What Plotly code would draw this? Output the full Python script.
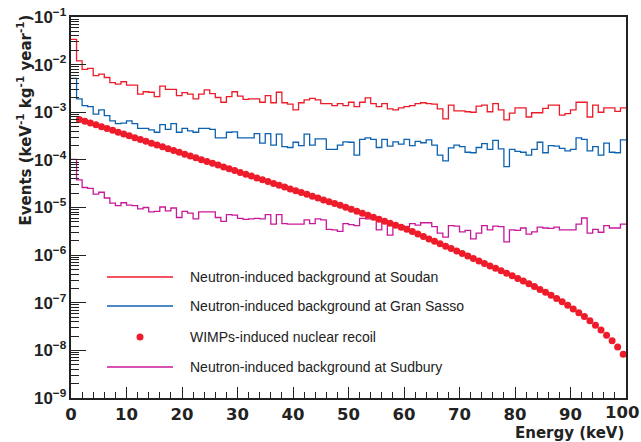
import plotly.graph_objects as go

# ---------------- data ----------------
bin_edges = list(range(0, 101))  # 1 keV bins, 0..100 keV

# log10 of events per bin (keV^-1 kg^-1 year^-1)
soudan_log10 = [
    -1.47, -1.92, -2.10, -2.08, -2.23, -2.20, -2.27, -2.38, -2.41, -2.36,
    -2.43, -2.43, -2.62, -2.57, -2.58, -2.67, -2.45, -2.52, -2.52, -2.65,
    -2.59, -2.62, -2.72, -2.62, -2.53, -2.61, -2.69, -2.79, -2.67, -2.57,
    -2.66, -2.73, -2.72, -2.72, -2.79, -2.65, -2.80, -2.58, -2.80, -2.83,
    -2.95, -2.80, -2.74, -2.71, -2.74, -2.82, -2.82, -2.86, -2.82, -2.86,
    -2.79, -2.88, -2.79, -2.70, -2.82, -2.88, -2.82, -2.93, -2.95, -2.91,
    -2.88, -2.86, -2.82, -2.80, -2.82, -2.83, -2.93, -3.14, -2.85, -2.97,
    -2.97, -2.99, -3.00, -2.87, -2.85, -2.99, -2.82, -2.95, -3.16, -3.02,
    -2.91, -2.91, -3.10, -3.01, -3.01, -2.92, -2.85, -2.85, -3.06, -3.03,
    -2.95, -2.79, -2.79, -3.10, -2.85, -3.00, -2.91, -2.91, -2.98, -2.91,
]

gransasso_log10 = [
    -2.29, -2.72, -2.86, -2.88, -3.04, -2.95, -3.07, -3.18, -3.24, -3.23,
    -3.18, -3.24, -3.34, -3.34, -3.37, -3.42, -3.26, -3.36, -3.24, -3.42,
    -3.34, -3.39, -3.42, -3.34, -3.34, -3.36, -3.54, -3.54, -3.42, -3.41,
    -3.54, -3.54, -3.54, -3.45, -3.65, -3.45, -3.69, -3.46, -3.72, -3.74,
    -3.63, -3.70, -3.46, -3.69, -3.56, -3.56, -3.78, -3.78, -3.69, -3.62,
    -3.63, -3.90, -3.57, -3.54, -3.57, -3.74, -3.57, -3.71, -3.62, -3.67,
    -3.57, -3.70, -3.61, -3.64, -3.58, -3.69, -3.90, -4.02, -3.75, -3.69,
    -3.72, -3.84, -3.85, -3.74, -3.66, -3.78, -3.59, -3.77, -4.14, -3.78,
    -3.82, -3.84, -3.90, -3.78, -3.63, -3.85, -3.70, -3.71, -3.76, -3.81,
    -3.78, -3.54, -3.57, -3.81, -3.72, -3.90, -3.65, -3.84, -3.85, -3.58,
]

sudbury_log10 = [
    -3.99, -4.42, -4.58, -4.60, -4.72, -4.68, -4.80, -4.91, -4.96, -4.90,
    -4.95, -4.96, -5.03, -5.00, -5.09, -5.08, -4.99, -5.07, -5.01, -5.21,
    -5.08, -5.12, -5.24, -5.09, -5.09, -5.09, -5.21, -5.29, -5.15, -5.16,
    -5.23, -5.25, -5.24, -5.23, -5.24, -5.15, -5.35, -5.15, -5.34, -5.35,
    -5.35, -5.35, -5.26, -5.34, -5.24, -5.26, -5.46, -5.47, -5.50, -5.34,
    -5.36, -5.38, -5.23, -5.24, -5.24, -5.47, -5.28, -5.58, -5.38, -5.38,
    -5.40, -5.34, -5.37, -5.32, -5.32, -5.40, -5.54, -5.62, -5.38, -5.39,
    -5.51, -5.48, -5.66, -5.54, -5.38, -5.47, -5.39, -5.40, -5.72, -5.47,
    -5.48, -5.43, -5.56, -5.51, -5.41, -5.43, -5.44, -5.41, -5.47, -5.47,
    -5.47, -5.35, -5.22, -5.54, -5.46, -5.52, -5.38, -5.43, -5.43, -5.35,
]

wimp_energy = [e + 0.5 for e in range(1, 100)]  # 1.5 .. 99.5 keV
wimp_log10 = [
    -3.150, -3.188, -3.227, -3.265, -3.304, -3.342, -3.380, -3.419, -3.457, -3.496,
    -3.534, -3.572, -3.611, -3.649, -3.688, -3.726, -3.764, -3.803, -3.841, -3.880,
    -3.918, -3.956, -3.995, -4.033, -4.072, -4.110, -4.148, -4.187, -4.225, -4.264,
    -4.302, -4.340, -4.379, -4.417, -4.456, -4.494, -4.532, -4.571, -4.609, -4.648,
    -4.686, -4.724, -4.763, -4.801, -4.840, -4.878, -4.916, -4.955, -4.993, -5.035,
    -5.077, -5.119, -5.161, -5.203, -5.245, -5.287, -5.329, -5.371, -5.413, -5.455,
    -5.506, -5.557, -5.608, -5.659, -5.710, -5.761, -5.812, -5.863, -5.914, -5.966,
    -6.018, -6.070, -6.122, -6.174, -6.226, -6.278, -6.330, -6.382, -6.434, -6.490,
    -6.545, -6.600, -6.660, -6.720, -6.780, -6.845, -6.910, -6.980, -7.050, -7.130,
    -7.210, -7.290, -7.380, -7.470, -7.570, -7.680, -7.800, -7.930, -8.080,
]

x_tick_values = [0, 10, 20, 30, 40, 50, 60, 70, 80, 90, 100]
x_tick_labels = ["0", "10", "20", "30", "40", "50", "60", "70", "80", "90", "100"]

names = [
    "Neutron-induced background at Soudan",
    "Neutron-induced background at Gran Sasso",
    "WIMPs-induced nuclear recoil",
    "Neutron-induced background at Sudbury",
]

# ---------------- styling ----------------
RED = "#ee1c2a"
BLUE = "#0d62b0"
MAGENTA = "#c8189a"
FONT = "Liberation Sans, Arial, Helvetica, sans-serif"
BOLDFONT = "DejaVu Sans, Liberation Sans, sans-serif"
INK = "#222"

W, H = 641, 442
ML, MR, MT, MB = 71, 15, 17, 44
PW, PH = W - ML - MR, H - MT - MB


def px_x(x):
    return (x - ML) / PW


def px_y(y):
    return (H - MB - y) / PH


def hist_steps(logs):
    vals = [10 ** v for v in logs]
    return vals + [vals[-1]]


fig = go.Figure()

hist_series = [
    (soudan_log10, RED, names[0]),
    (gransasso_log10, BLUE, names[1]),
    (sudbury_log10, MAGENTA, names[3]),
]
for logs, col, nm in hist_series:
    fig.add_trace(go.Scatter(
        x=bin_edges, y=hist_steps(logs), mode="lines",
        line=dict(color=col, width=1.3, shape="hv"),
        name=nm, showlegend=False,
    ))

fig.add_trace(go.Scatter(
    x=wimp_energy, y=[10 ** v for v in wimp_log10], mode="markers",
    marker=dict(color=RED, size=7, line=dict(width=0)),
    name=names[2], showlegend=False,
))

# ---- legend box (drawn in paper coordinates, like the ROOT TLegend) ----
legend_rows_px = [277, 306, 337, 367]
legend_styles = [("line", RED), ("line", BLUE), ("dot", RED), ("line", MAGENTA)]
legend_names = [names[0], names[1], names[2], names[3]]
sample_x0, sample_x1, text_x = 107, 173, 188

shapes = []
annotations = []
for ypx, (kind, col), nm in zip(legend_rows_px, legend_styles, legend_names):
    yp = px_y(ypx)
    if kind == "line":
        shapes.append(dict(type="line", xref="paper", yref="paper",
                           x0=px_x(sample_x0), x1=px_x(sample_x1), y0=yp, y1=yp,
                           line=dict(color=col, width=1.5)))
    else:
        cx = (sample_x0 + sample_x1) / 2
        r = 3.5
        shapes.append(dict(type="circle", xref="paper", yref="paper",
                           x0=px_x(cx - r), x1=px_x(cx + r),
                           y0=px_y(ypx + r), y1=px_y(ypx - r),
                           fillcolor=col, line=dict(width=0)))
    annotations.append(dict(text=nm, xref="paper", yref="paper",
                            x=px_x(text_x), y=yp, xanchor="left", yanchor="middle",
                            showarrow=False,
                            font=dict(family=FONT, size=14, color=INK)))

# last x tick label sits slightly left of its tick (as in the reference)
annotations.append(dict(
    text=x_tick_labels[-1], xref="paper", yref="paper",
    x=px_x(641), y=px_y(412), xanchor="right", yanchor="middle", showarrow=False,
    font=dict(family=BOLDFONT, size=16.5, color=INK, weight="bold")))

annotations.append(dict(
    text="Events (keV<sup>-1</sup> kg<sup>-1</sup> year<sup>-1</sup>)",
    xref="paper", yref="paper", x=px_x(25), y=px_y(13),
    xanchor="center", yanchor="top", textangle=-90, showarrow=False,
    font=dict(family=BOLDFONT, size=15, color=INK, weight="bold")))
annotations.append(dict(
    text="Energy (keV)",
    xref="paper", yref="paper", x=1.0, y=px_y(433),
    xanchor="right", yanchor="middle", showarrow=False,
    font=dict(family=BOLDFONT, size=15, color=INK, weight="bold")))

fig.update_layout(
    width=W, height=H,
    margin=dict(l=ML, r=MR, t=MT, b=MB),
    paper_bgcolor="white", plot_bgcolor="white",
    font=dict(family=FONT, color=INK),
    showlegend=False,
    xaxis=dict(
        range=[0, 100], automargin=False,
        tickmode="array", tickvals=x_tick_values[:-1], ticktext=x_tick_labels[:-1],
        showline=True, linecolor=INK, linewidth=2, mirror=True,
        ticks="inside", ticklen=11, tickwidth=1, tickcolor=INK,
        tickfont=dict(family=BOLDFONT, size=16.5, color=INK, weight="bold"),
        showgrid=False, zeroline=False,
        minor=dict(ticks="inside", ticklen=6, dtick=2, tick0=0, tickcolor=INK, showgrid=False),
    ),
    yaxis=dict(
        type="log", range=[-9, -1], dtick=1, automargin=False,
        exponentformat="power", showexponent="all",
        showline=True, linecolor=INK, linewidth=2, mirror=True,
        ticks="inside", ticklen=15, tickwidth=1, tickcolor=INK,
        tickfont=dict(family=FONT, size=13.5, color=INK, weight="bold"),
        showgrid=False, zeroline=False,
        minor=dict(ticks="inside", ticklen=8, dtick="D1", tickcolor=INK, showgrid=False),
    ),
    shapes=shapes,
    annotations=annotations,
)

fig.write_html("out.html")
